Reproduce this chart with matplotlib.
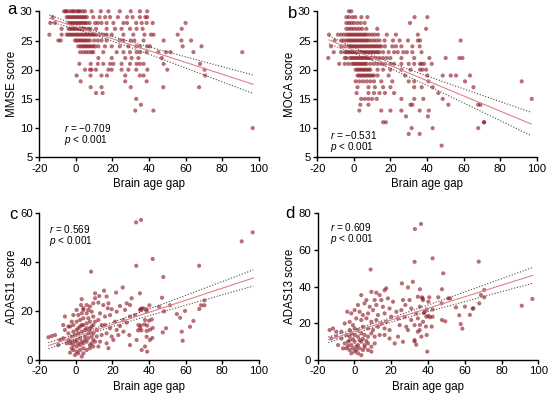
import numpy as np
import matplotlib
matplotlib.use("Agg")
import matplotlib.pyplot as plt

# ---- data (brain age gap vs. cognitive score) ----
# MMSE / MOCA are integer scores: (score, [brain age gaps at that score])
mmse_rows = [
    (30, [-6.5, -5.5, -5, -3.6, -2.3, -1.5, -0.5, 0.8, 1.5, 2.3, 3.7, 5, 8.6, 13.6, 17.8, 24, 30, 35, 39]),
    (29, [-12.7, -5, -4, -3, -2, -1, 0, 1, 2, 3, 4, 5, 6, 9.5, 13, 16, 18.7, 23, 28, 31, 35, 38, 39]),
    (28, [-14, -11.4, -4, -3, -2, -1, 0, 1, 2, 3, 4, 5, 6, 7.5, 10.5, 12, 14, 16.8, 20.5, 26, 28, 33, 36,
          38.7, 42, 60]),
    (27, [-7.8, -4, -3, -2, -1, 0, 1, 2, 3, 4, 5, 6.8, 8, 11, 16.8, 21.4, 25, 29.6, 33.2, 36.5, 57.9]),
    (26, [-14.5, -7.8, -5, -4, -3, -2, -1, 0, 1, 2, 3, 4, 5, 6, 7, 8, 9, 10, 11, 13, 15, 16.8, 19.6, 26,
          31.4, 37.5, 41, 42.5, 55.7]),
    (25, [-9.6, -8.3, -0.5, 0.5, 1.5, 2.5, 3.5, 4.5, 5.5, 6.5, 7.7, 10, 12, 14, 16.8, 24, 26, 30, 32, 37,
          48, 57.7, 63]),
    (24, [1.3, 2.5, 3.5, 4.5, 5.5, 6.5, 7.5, 8.5, 9.5, 10.5, 12.3, 15.9, 19.6, 24, 28.7, 33, 35, 39, 40.5,
          58.4, 68.7]),
    (23, [2.3, 4, 5.5, 7, 8.5, 9.5, 15, 22.3, 26, 29.6, 33.2, 35.1, 38.7, 45.1, 49.3, 51.8, 64.3, 91]),
    (22, [12.3, 19.6, 27, 30.5, 34.2, 47]),
    (21, [1.9, 8.1, 12, 15, 18.7, 20.5, 25, 29.6, 33.2, 35, 37, 48, 67.9]),
    (20, [5, 7.7, 8.6, 11, 17.8, 19.6, 25, 28.7, 33, 39.1, 50, 70.4]),
    (19, [0.4, 8, 14, 17, 27, 35, 37, 70.7]),
    (18, [2.6, 27, 38.7]),
    (17, [8.1, 14, 30, 47.8, 67.4]),
    (16, [11, 14.6]),
    (15, [33]),
    (14, [35.6]),
    (13, [32.5, 42.4]),
    (10, [96.7]),
]

moca_rows = [
    (30, [-2.7, -1.4]),
    (29, [-4.1, -2.7, -0.8, 0.8, 4.1, 7.4, 33.2, 40.2]),
    (28, [-4.1, -2.7, -1.4, 0, 1.9, 3.7, 5.9, 30.7]),
    (27, [-4.1, -2.7, -1.4, 0, 1.5, 3, 4.5, 6.8, 12.8, 39.5]),
    (26, [-13.6, -8.7, -7, -5.5, -4, -3, -2, -1, 0, 1, 2, 3, 4, 5, 6, 7, 8.5, 10, 11.5, 13.2, 18, 23, 35]),
    (25, [-10.5, -6.9, -5.5, -4, -3, -2, -1, 0, 1, 2, 3, 4, 5, 6, 7, 8, 9.5, 11, 12.5, 14, 16.8, 21.4,
          25, 29.6, 35, 36.2, 58.4]),
    (24, [-12.5, -6.9, -5, -3, -2, -1, 0, 1, 2, 3, 4, 5, 6, 7, 8, 9, 10, 11, 12, 13, 14, 15, 17, 21, 23,
          26, 32, 36]),
    (23, [-11, -7, -5, -4, -3, -2, -1, 0, 1, 2, 3, 4, 5, 6, 7, 8, 9, 10, 11, 12, 13, 14, 16, 19, 22, 24,
          27, 29, 32, 37]),
    (22, [-14, -5, -4, -2, -1, 0, 1, 2, 3, 4, 5, 6, 7, 8, 9, 10, 12, 14, 16, 18, 20, 26, 33, 41.3, 50.2,
          57.7, 59.4]),
    (21, [-8, -5, -3, -1, 0, 1, 2, 3, 4, 5, 6, 7, 9, 11, 13, 15, 17, 20, 22, 26, 30, 33, 36.2, 37.1,
          38.4, 42.6]),
    (20, [1, 2, 3, 4, 5, 6, 7, 8, 9, 13, 16, 20, 26, 31, 36.2, 37.5, 39.5]),
    (19, [2, 3, 4, 5, 6, 7, 8, 9, 10, 11, 13, 19, 28, 40.2, 48.6, 53, 55.9, 63.5]),
    (18, [1, 3, 5, 7, 9, 11, 15, 21, 30, 33, 40.8, 60.8, 91.8]),
    (17, [2, 8, 11.5, 16, 20, 33, 37.1, 43.1, 65.4]),
    (16, [1.5, 8, 11, 14, 17, 22, 46.2]),
    (15, [4, 6, 8, 10, 12.5, 26, 33, 38, 48.6, 97.3]),
    (14, [3.5, 8, 31, 32, 51.7, 68, 69.3]),
    (13, [3, 15, 20, 26, 36, 41]),
    (12, [28.5, 40.5]),
    (11, [16, 17.5, 71.2, 71.2]),
    (10, [31.6, 43.1, 68]),
    (9, [30, 36]),
    (7, [48]),
]

# ADAS scores: (brain age gap, score)
adas11_points = [
    (35.6, 57.3), (32.9, 56.3), (96.7, 52.2), (90.7, 48.5), (42, 41.3), (67.4, 38.5), (33, 38.5),
    (47.8, 33.9), (8.3, 36.1), (35, 27.2), (47.1, 25.4), (70.3, 24.3), (68.5, 22.3), (70.3, 22.3),
    (67.5, 20.8), (51.5, 22.3), (40.2, 22.3), (45.5, 21.7), (36, 21), (37, 21), (48.2, 19.8),
    (59.7, 20), (55.2, 18.7), (57, 17.2), (64.3, 15.9), (62.4, 13.5), (57.9, 11.5), (58.4, 7.8),
    (49.3, 12.9), (47.5, 11.2), (42, 13), (41.8, 8.9), (39, 3.3), (38.7, 9.4), (40, 16), (41.5, 16.5),
    (39, 14), (35.8, 12), (34, 12), (38.7, 11.8), (40.5, 12.3), (37.5, 14.5), (35.5, 14),
    (38.7, 20.7), (35.5, 20.7),
    (25.6, 29.6), (10.5, 27.2), (15.4, 28.3), (12.8, 26.1), (10.5, 25.2), (16.8, 25.9), (3.2, 24.8),
    (22, 27.5), (30.5, 25.2), (27.8, 23.1), (29.6, 22.4), (9.5, 23.1), (12.3, 23.4), (15, 22.4),
    (17.8, 23.1), (2.8, 22.4), (4.1, 21.1), (24.1, 22), (26.9, 20.4), (22.3, 19.7), (19.6, 20.7),
    (17.4, 21.1), (18.7, 18.3), (15.9, 17.7), (13.2, 19), (38.7, 19.7), (35.1, 20.4), (32.3, 18.3),
    (29.6, 17.7), (26, 16.3), (27.8, 15.2), (34.2, 14.2), (37.8, 16.3), (21.4, 15.6), (24.1, 13.8),
    (18.7, 12.9), (15.9, 14.2), (22.3, 12.2), (12.3, 16.3), (14.1, 14.2), (11.4, 12.2), (9.5, 14.2),
    (7.7, 12.9), (16.8, 10.8), (19.6, 9.5), (14.1, 10.1), (23.2, 10.1), (20.5, 8.1), (26, 11.5),
    (29.2, 10.1), (29.6, 6), (33.2, 8.1), (35.1, 12.9), (40.5, 8.1), (36, 4), (37.8, 5.4),
    (16.8, 6.7), (13.2, 7.4), (9.5, 8.1), (12.3, 5.4), (17.8, 4.7),
    (-13.2, 9.7), (-11.4, 10.1), (-15, 9.2), (-8.7, 8.1), (-6.9, 8.8), (-9.6, 6), (-5, 6.7),
    (-6, 12.2), (-3.2, 13.6), (-4.1, 10.8), (-1.4, 11.5), (-2.3, 9.5), (-1.4, 14.2), (0.4, 15.6),
    (2.3, 16.3), (4.1, 17), (1.3, 12.9), (3.2, 14.2), (5.9, 14.9), (6.8, 17), (-0.5, 10.1),
    (1.3, 10.8), (3.2, 11.5), (5, 12.2), (6.8, 10.8), (5, 9.5), (2.3, 8.8), (0.4, 8.1), (-3.2, 6.7),
    (-1.4, 6), (0.4, 5.4), (-2.3, 4.7), (2.3, 6), (4.1, 6.7), (5.9, 7.4), (7.7, 6), (-1.4, 4),
    (0.4, 3.3), (2.3, 4), (4.1, 4.7), (-0.5, 1.9), (1.3, 2.6), (-3.2, 2.9), (5.9, 4), (7.7, 4.7),
    (9.5, 5.4), (4.1, 2.6), (3.2, 1.3), (-4.1, 8.1), (-2.3, 7.4), (-0.5, 7.4), (1.3, 6.7),
    (3.2, 7.4), (5, 8.1), (6.8, 8.8), (8.6, 9.5), (7.7, 11.5), (9.5, 10.8), (11.4, 9.5), (10.5, 7.4),
    (8.6, 6.7), (0.4, 12.2), (2.3, 13.6), (4.1, 14.2), (5.9, 12.9), (8.6, 13.6), (10.5, 15.6),
    (7.7, 15.6), (-2.3, 15.6), (-4.1, 13.6), (-6.9, 14.2), (-6, 17.7), (1.3, 18.3), (3.2, 19),
    (5.9, 19), (8.6, 19.7), (9.5, 17.7), (4.1, 20.4), (5.9, 22.4), (7.7, 21.8), (6.8, 20.4),
    (0.4, 20.4), (-1.4, 18.3),
]

adas13_points = [
    (36.2, 74.2), (32.9, 71.4), (42.5, 55.4), (67.6, 53.6), (32.7, 53.5), (8.8, 49.3), (48.3, 47.2),
    (35.6, 38.5), (47.6, 38.5), (70.6, 38.1), (68.8, 35.4), (70.6, 34.1), (67.9, 30.8), (52, 33.5),
    (51, 33.5), (45.6, 34.1), (40.7, 34.1), (36.7, 34.1), (47.4, 30.8), (55.2, 28.6), (60.1, 29),
    (64.3, 27.9), (57, 24.3), (62.8, 24.5), (64.7, 28.1), (57.8, 19.5), (58.7, 17), (96.8, 33.2),
    (91, 29.5), (47.6, 21.7), (49.4, 21), (42.5, 27.5), (39.3, 27.5), (42.5, 23.5), (41.1, 23.2),
    (35.6, 19), (38.9, 18.1), (42, 18.1), (39.3, 13.5), (39.6, 4.4), (40.2, 31.7), (37.1, 33.5),
    (35.6, 29), (37.8, 25.4), (40.2, 24),
    (25.8, 41.7), (31.8, 42.6), (29.1, 39.5), (3.7, 35.3), (9.2, 37.1), (11.9, 36.6), (13.7, 35.3),
    (16.4, 38), (17.3, 39), (6.5, 32.6), (11, 32.6), (14.6, 32.6), (18.2, 33.5), (21, 31.7),
    (26.4, 32.6), (27.7, 29.9), (30, 32.6), (34.5, 34.4), (37.3, 32.6), (1.9, 29.9), (5.5, 30.8),
    (8.3, 28.9), (11.9, 29.9), (15.5, 28.9), (19.1, 28), (22.8, 26.2), (25.5, 27.1), (30.9, 28),
    (33.6, 25.3), (38.2, 26.2), (-3.9, 26.2), (-1.7, 25.3), (0.1, 27.1), (2.8, 26.2), (4.6, 24.4),
    (7.4, 25.3), (10.1, 27.1), (12.8, 24.4), (16.4, 25.3), (20, 23.5), (23.7, 22.6), (27.3, 23.5),
    (30.9, 21.7), (34.5, 22.6), (37.3, 20.7), (39.1, 23.5), (1, 22.6), (3.7, 21.7), (6.5, 22.6),
    (9.2, 20.7), (11.9, 21.7), (14.6, 19.8), (17.3, 20.7), (24.6, 18.9), (28.2, 18), (32.7, 18.9),
    (35.5, 16.2), (-5.3, 19.8), (-2.6, 20.7), (-0.8, 18.9), (-13.5, 16.2), (-11.7, 17.1),
    (-9.9, 15.3), (-7.1, 15.3), (0.1, 17.1), (1.9, 16.2), (4.6, 18), (7.4, 17.1), (10.1, 16.2),
    (12.8, 18), (16.4, 17.1), (19.1, 16.2), (-12.6, 11.6), (-9.9, 12.6), (-7.1, 11.6), (-4.4, 13.5),
    (-2.6, 12.6), (0.1, 13.5), (1.9, 12.6), (3.7, 14.4), (5.5, 13.5), (7.4, 12.6), (9.2, 14.4),
    (11, 12.6), (13.7, 13.5), (16.4, 13.5), (19.1, 11.6), (23.7, 12.6), (26.4, 9.8), (21.9, 8.9),
    (29.1, 16.2), (32.7, 10.7), (34.5, 15.3), (36.4, 12.6), (32.7, 10), (33.6, 8.2), (-5.3, 8.9),
    (-3.5, 9.8), (-1.7, 8), (0.1, 9.8), (1.9, 8), (3.7, 9.8), (5.5, 8), (7.4, 8.9), (9.2, 7.1),
    (11, 8.9), (-4.4, 6.2), (-2.6, 5.3), (-0.8, 6.2), (1, 5.3), (2.8, 6.2), (4.6, 5.3), (-1.7, 3.5),
    (0.1, 4.4), (1.9, 3.5), (-6.2, 6.2), (-8.9, 8), (7.4, 5.3), (9.2, 4.4), (3.7, 2.5), (-2.6, 16.2),
    (-1.7, 14.4), (-2.6, 10.5), (-0.8, 11.2), (2.8, 10.7), (4.6, 11.4), (6.5, 10.2), (1, 7.2),
    (-3.5, 7.5), (5.5, 6.8),
]

# regression line (x_start, y_start, x_end, y_end) and 95% band (half width at mean gap, growth)
mmse_fit = [-14.5, 28.8, 97, 17.5]
moca_fit = [-13.6, 25.1, 97, 10.7]
adas11_fit = [-15, 5.8, 97, 33.5]
adas13_fit = [-14.2, 10.9, 97, 46.1]
mmse_band = [0.35, 0.0178]
moca_band = [0.45, 0.0224]
adas11_band = [0.8, 0.037]
adas13_band = [1.1, 0.048]
mean_gap = 10

stats_text = ["−0.709", "−0.531", "0.569", "0.609"]
ylabels = ["MMSE score", "MOCA score", "ADAS11 score", "ADAS13 score"]
panel_letters = ["a", "b", "c", "d"]

POINT_COLOR = "#8c1822"
FIT_COLOR = "#e08288"
BAND_COLOR = "#4a4a4a"


def rows_to_xy(rows):
    xs, ys = [], []
    for score, gaps in rows:
        xs.extend(gaps)
        ys.extend([score] * len(gaps))
    return np.array(xs), np.array(ys)


def pairs_to_xy(pairs):
    arr = np.array(pairs)
    return arr[:, 0], arr[:, 1]


plt.rcParams.update({
    "font.family": ["Liberation Sans", "DejaVu Sans"],
    "font.size": 8.2,
    "axes.unicode_minus": False,
    "mathtext.fontset": "custom",
    "mathtext.it": "Liberation Sans:italic",
    "mathtext.rm": "Liberation Sans",
})

fig = plt.figure(figsize=(5.5, 3.98), dpi=100)

positions = [
    [0.0715, 0.6048, 0.3989, 0.3668],
    [0.5769, 0.6048, 0.3989, 0.3668],
    [0.0715, 0.0962, 0.3989, 0.3678],
    [0.5776, 0.0962, 0.4011, 0.3678],
]
datasets = [rows_to_xy(mmse_rows), rows_to_xy(moca_rows),
            pairs_to_xy(adas11_points), pairs_to_xy(adas13_points)]
fits = [mmse_fit, moca_fit, adas11_fit, adas13_fit]
bands = [mmse_band, moca_band, adas11_band, adas13_band]
ylims = [(5, 30), (5, 30), (0, 60), (0, 80)]
yticks = [range(5, 31, 5), range(5, 31, 5), range(0, 61, 20), range(0, 81, 20)]
# where the r / p annotation sits (axes fraction, upper line)
text_pos = [(0.113, 0.20), (0.058, 0.153), (0.044, 0.895), (0.056, 0.906)]
letter_pos = [(0.021, 0.976), (0.531, 0.966), (0.024, 0.461), (0.527, 0.464)]

for i in range(4):
    ax = fig.add_axes(positions[i])
    x, y = datasets[i]
    ax.scatter(x, y, s=9, color=POINT_COLOR, alpha=0.62, edgecolors="none",
               clip_on=False, zorder=2)

    x0, y0, x1, y1 = fits[i]
    xs = np.linspace(x0, x1, 100)
    line = y0 + (y1 - y0) * (xs - x0) / (x1 - x0)
    h0, k = bands[i]
    half = np.sqrt(h0 ** 2 + (k * (xs - mean_gap)) ** 2)
    ax.plot(xs, line, color=FIT_COLOR, lw=0.8, zorder=3)
    ax.plot(xs, line + half, color=BAND_COLOR, lw=0.8, ls=(0, (1, 1.6)), zorder=3)
    ax.plot(xs, line - half, color=BAND_COLOR, lw=0.8, ls=(0, (1, 1.6)), zorder=3)

    ax.set_xlim(-20, 100)
    ax.set_ylim(*ylims[i])
    ax.set_xticks(range(-20, 101, 20))
    ax.set_yticks(list(yticks[i]))
    for side in ("top", "right"):
        ax.spines[side].set_visible(False)
    for side in ("left", "bottom"):
        ax.spines[side].set_linewidth(1.0)
    ax.tick_params(direction="out", length=3, width=1.0, labelsize=8.2, pad=1.8)
    ax.set_xlabel("Brain age gap", fontsize=8.3, labelpad=3)
    ax.set_ylabel(ylabels[i], fontsize=8.3, labelpad=1.5)

    tx, ty = text_pos[i]
    ax.text(tx, ty, "$r$ = " + stats_text[i], transform=ax.transAxes,
            fontsize=7.2, va="center", ha="left")
    ax.text(tx, ty - 0.082, "$p$ < 0.001", transform=ax.transAxes,
            fontsize=7.2, va="center", ha="left")

    lx, ly = letter_pos[i]
    fig.text(lx, ly, panel_letters[i], fontsize=12, ha="center", va="center")

fig.savefig("out.png", dpi=100)
